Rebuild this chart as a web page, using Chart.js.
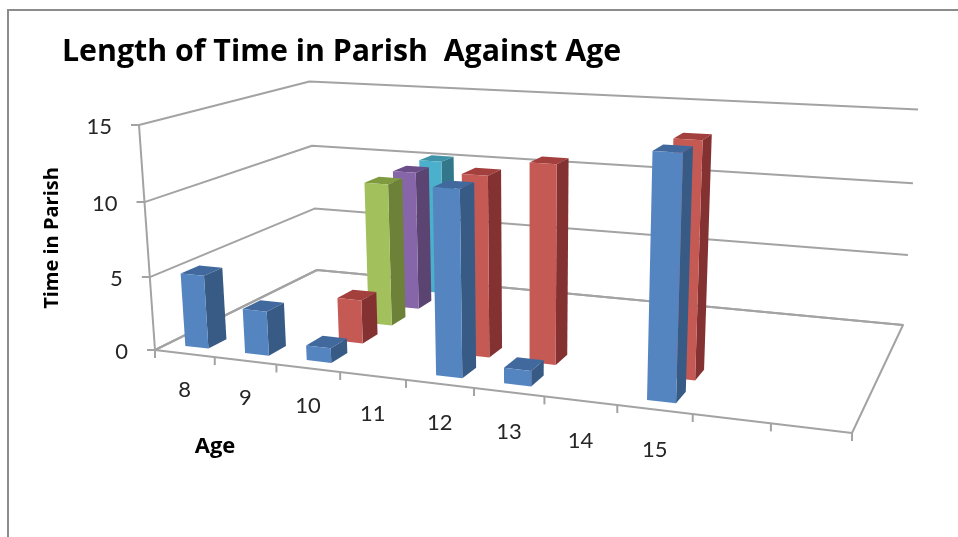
<!DOCTYPE html>
<html>
<head>
<meta charset="utf-8">
<style>
  html, body { margin: 0; padding: 0; background: #fff; }
  canvas { display: block; }
</style>
<script src="https://cdn.jsdelivr.net/npm/chart.js@4"></script>
</head>
<body>
<canvas id="myChart" width="958" height="537"></canvas>
<script>
// two blank categories at the end, the sheet had empty rows there
const ages = ["8", "9", "10", "11", "12", "13", "14", "15", "", ""];
const series1 = [5, 3, 1, null, 12, 1, null, 15, null, null];
const series2 = [null, null, 3, null, 12, 13, null, 15, null, null];
const series3 = [null, null, 10, null, null, null, null, null, null, null];
const series4 = [null, null, 10, null, null, null, null, null, null, null];
const series5 = [null, null, 10, null, null, null, null, null, null, null];
const yTicks = [0, 5, 10, 15];

const fronts = ["#5585c1", "#c55a55", "#a2c05c", "#8666a8", "#4bb0cc"];
const sides = ["#385b85", "#843231", "#6d8139", "#5b4472", "#33788a"];
const tops = ["#41699e", "#a33f3c", "#7f9a3f", "#6a4d89", "#3f93a8"];

const gray = "#a3a3a3";
const depthWidth = 0.1; // bar thickness along the depth axis
const depthShift = 0.015;

// the 3d view: floor corners FL FR BR BL, vanishing point of the uprights
const floorQuad = [[155, 350], [852, 433], [903, 325], [317, 270]];
const vanish = [531, 5635];
const lift = -0.04083;

function quadMap(q) {
  const [p0, p1, p2, p3] = q;
  const dx1 = p1[0] - p2[0], dx2 = p3[0] - p2[0], sx = p0[0] - p1[0] + p2[0] - p3[0];
  const dy1 = p1[1] - p2[1], dy2 = p3[1] - p2[1], sy = p0[1] - p1[1] + p2[1] - p3[1];
  const det = dx1 * dy2 - dx2 * dy1;
  const g = (sx * dy2 - dx2 * sy) / det;
  const h = (dx1 * sy - sx * dy1) / det;
  const a = p1[0] - p0[0] + g * p1[0], b = p3[0] - p0[0] + h * p3[0];
  const d = p1[1] - p0[1] + g * p1[1], e = p3[1] - p0[1] + h * p3[1];
  return (u, w) => [a * u + b * w + p0[0], d * u + e * w + p0[1], g * u + h * w + 1];
}
const floorAt = quadMap(floorQuad);

// u across the categories, w into the page, h up the value axis (all 0..1)
function project(u, w, h) {
  const f = floorAt(u, w);
  const k = h * lift;
  const z = f[2] + k;
  return [(f[0] + k * vanish[0]) / z, (f[1] + k * vanish[1]) / z];
}

function poly(ctx, pts, fill) {
  ctx.beginPath();
  pts.forEach((p, i) => i ? ctx.lineTo(p[0], p[1]) : ctx.moveTo(p[0], p[1]));
  ctx.closePath();
  ctx.fillStyle = fill;
  ctx.fill();
}

function line(ctx, pts, closed) {
  ctx.beginPath();
  pts.forEach((p, i) => i ? ctx.lineTo(p[0], p[1]) : ctx.moveTo(p[0], p[1]));
  if (closed) ctx.closePath();
  ctx.stroke();
}

const box3d = {
  id: "box3d",
  beforeDraw(chart) {
    const ctx = chart.ctx;
    ctx.save();
    ctx.fillStyle = "#fff";
    ctx.fillRect(0, 0, chart.width, chart.height);
    // picture frame
    ctx.fillStyle = "#8c8c8c";
    ctx.fillRect(7, 9, 951, 2);
    ctx.fillRect(7, 9, 2, 528);
    ctx.restore();
  },
  beforeDatasetsDraw(chart) {
    const ctx = chart.ctx, y = chart.scales.y;
    ctx.save();
    ctx.strokeStyle = gray;
    ctx.lineWidth = 2;
    ctx.lineJoin = "round";
    y.ticks.forEach((t) => {
      const h = (y.bottom - y.getPixelForValue(t.value)) / y.height;
      const a = project(0, 0, h);
      line(ctx, [[a[0] - 8, a[1]], a, project(0, 1, h), project(1, 1, h)]);
    });
    line(ctx, [project(0, 0, 0), project(0, 0, 1)]);
    line(ctx, [project(0, 0, 0), project(1, 0, 0), project(1, 1, 0), project(0, 1, 0)], true);
    // tick marks on the front edge of the floor, one per category border
    for (let i = 0; i <= ages.length; i++) {
      const p = project(i / ages.length, 0, 0);
      line(ctx, [p, [p[0], p[1] + 8]]);
    }
    ctx.restore();
  },
  beforeDatasetDraw() {
    return false; // flat bars are replaced by the boxes below
  },
  afterDatasetsDraw(chart) {
    const ctx = chart.ctx, a = chart.chartArea;
    const n = chart.data.datasets.length;
    // back series first so the front ones cover them
    for (let s = n - 1; s >= 0; s--) {
      const meta = chart.getDatasetMeta(s);
      meta.data.forEach((el, i) => {
        if (chart.data.datasets[s].data[i] == null) return;
        const u0 = (el.x - el.width / 2 - a.left) / (a.right - a.left);
        const u1 = (el.x + el.width / 2 - a.left) / (a.right - a.left);
        const h = (el.base - el.y) / (a.bottom - a.top);
        const w0 = (s + 0.5) / n - depthWidth / 2 + depthShift, w1 = w0 + depthWidth;
        poly(ctx, [project(u0, w0, h), project(u1, w0, h), project(u1, w1, h), project(u0, w1, h)], tops[s]);
        poly(ctx, [project(u1, w0, 0), project(u1, w1, 0), project(u1, w1, h), project(u1, w0, h)], sides[s]);
        poly(ctx, [project(u0, w0, 0), project(u1, w0, 0), project(u1, w0, h), project(u0, w0, h)], fronts[s]);
      });
    }

    // axis texts follow the slanted edges, so they are placed here
    const x = chart.scales.x, y = chart.scales.y;
    ctx.save();
    ctx.fillStyle = "#262626";
    ctx.font = "22px Lato";
    ctx.textBaseline = "middle";
    ctx.textAlign = "right";
    y.ticks.forEach((t) => {
      const h = (y.bottom - y.getPixelForValue(t.value)) / y.height;
      const p = project(0, 0, h);
      ctx.fillText(t.label, p[0] - 27, p[1] + 2);
    });
    ctx.textAlign = "center";
    x.ticks.forEach((t, i) => {
      const u = (x.getPixelForTick(i) - a.left) / (a.right - a.left);
      const p = project(u, 0, 0);
      ctx.fillText(x.getLabelForValue(t.value), p[0], p[1] + 36 + 6 * u);
    });
    ctx.fillStyle = "#000";
    ctx.font = "bold 22px 'Open Sans'";
    ctx.fillText("Age", 215, 447);
    ctx.font = "bold 20px 'Open Sans'";
    ctx.translate(52, 238);
    ctx.rotate(-Math.PI / 2);
    ctx.fillText("Time in Parish", 0, 0);
    ctx.restore();
  }
};

new Chart("myChart", {
  type: "bar",
  plugins: [box3d],
  data: {
    labels: ages,
    datasets: [
      { label: "Series 1", data: series1, backgroundColor: fronts[0] },
      { label: "Series 2", data: series2, backgroundColor: fronts[1] },
      { label: "Series 3", data: series3, backgroundColor: fronts[2] },
      { label: "Series 4", data: series4, backgroundColor: fronts[3] },
      { label: "Series 5", data: series5, backgroundColor: fronts[4] }
    ]
  },
  options: {
    responsive: false,
    animation: false,
    grouped: false,
    categoryPercentage: 1,
    barPercentage: 0.39,
    layout: { padding: { left: 62, right: 106, top: 0, bottom: 187 } },
    plugins: {
      legend: { display: false },
      tooltip: { enabled: false },
      title: {
        display: true,
        text: "Length of Time in Parish  Against Age",
        align: "start",
        color: "#000",
        font: { family: "'Open Sans'", size: 30.3, weight: "bold" },
        padding: { top: 34, bottom: 55 }
      }
    },
    scales: {
      x: {
        display: false,
        ticks: { autoSkip: false }
      },
      y: {
        min: 0,
        max: 15,
        afterBuildTicks(s) { s.ticks = yTicks.map((v) => ({ value: v, label: String(v) })); },
        afterFit(s) { s.width = 93; },
        grid: { display: false },
        border: { display: false },
        ticks: { display: false }
      }
    }
  }
});
</script>
</body>
</html>
